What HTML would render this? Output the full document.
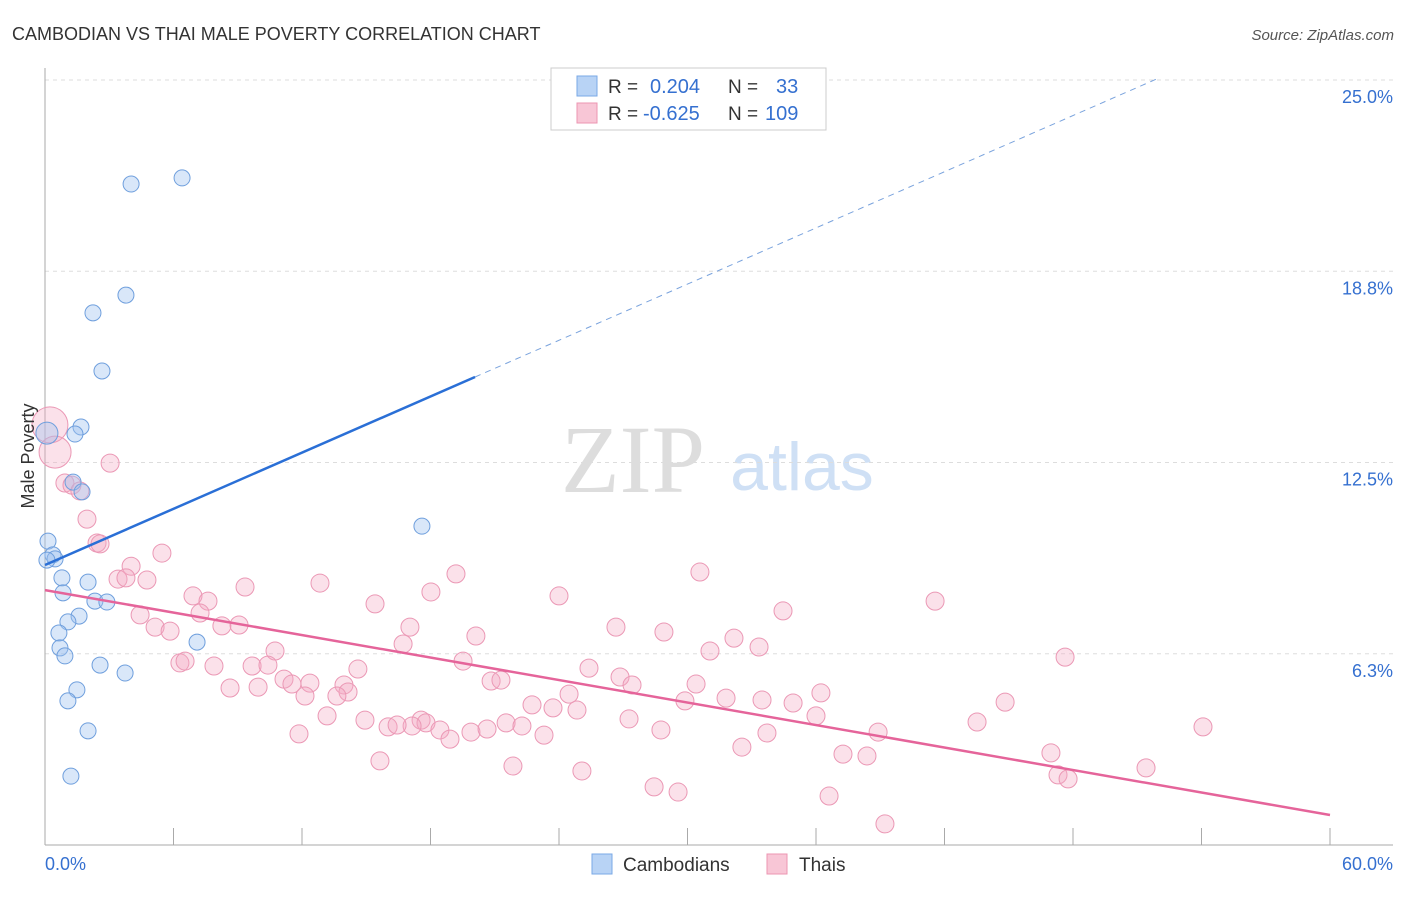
<!DOCTYPE html>
<html><head><meta charset="utf-8"><style>
body{margin:0;background:#fff;font-family:"Liberation Sans",sans-serif;}
svg text{font-family:"Liberation Sans",sans-serif;}
</style></head><body>
<svg id="chart" width="1406" height="892">
<text x="12" y="40" font-size="18" fill="#333">CAMBODIAN VS THAI MALE POVERTY CORRELATION CHART</text>
<text x="1394" y="40" font-size="15" fill="#555" font-style="italic" text-anchor="end">Source: ZipAtlas.com</text>
<text x="633" y="492" font-size="96" fill="#ddd" style="font-family:'Liberation Serif',serif" text-anchor="middle">ZIP</text>
<text x="802" y="490" font-size="68" fill="#cfe0f5" text-anchor="middle">atlas</text>
<g id="grid"></g><g id="marks"></g>
<text transform="translate(34,456) rotate(-90)" font-size="18" fill="#333" text-anchor="middle">Male Poverty</text>
<g>
<rect x="551" y="68" width="275" height="62" fill="#fff" stroke="#ccc"/>
<rect x="577" y="76" width="20" height="20" fill="#b8d3f5" stroke="#7aa8e6"/>
<rect x="577" y="103" width="20" height="20" fill="#f8c6d6" stroke="#ec95b2"/>
<text x="608" y="93" font-size="19" fill="#333">R =</text><text x="650" y="93" font-size="20" fill="#3570d0">0.204</text>
<text x="728" y="93" font-size="19" fill="#333">N =</text><text x="776" y="93" font-size="20" fill="#3570d0">33</text>
<text x="608" y="120" font-size="19" fill="#333">R =</text><text x="643" y="120" font-size="20" fill="#3570d0">-0.625</text>
<text x="728" y="120" font-size="19" fill="#333">N =</text><text x="765" y="120" font-size="20" fill="#3570d0">109</text>
</g>
<g>
<rect x="592" y="854" width="20" height="20" fill="#b8d3f5" stroke="#7aa8e6"/>
<text x="623" y="871" font-size="19" fill="#333">Cambodians</text>
<rect x="767" y="854" width="20" height="20" fill="#f8c6d6" stroke="#ec95b2"/>
<text x="799" y="871" font-size="19" fill="#333">Thais</text>
</g>
</svg>
<script>
const yTicks=[25.0,18.8,12.5,6.3];
const yTickVals=[25,18.75,12.5,6.25];
const xTickLabels=["0.0%","60.0%"];
const blueX=[4.02,6.40,3.78,2.24,2.66,1.68,1.40,0.09,1.31,1.73,0.14,0.37,0.47,0.79,2.01,0.84,2.33,2.89,1.59,1.07,0.65,0.70,0.93,7.10,2.57,3.74,1.49,1.07,2.01,1.21,17.60,0.09];
const blueY=[21.6,21.8,17.97,17.39,15.49,13.66,13.43,13.46,11.86,11.54,9.93,9.48,9.35,8.73,8.59,8.24,7.97,7.94,7.48,7.29,6.93,6.44,6.18,6.63,5.88,5.62,5.07,4.71,3.73,2.25,10.42,9.31];
const pinkX=[0.23,0.47,0.93,1.26,1.63,3.04,1.96,2.43,2.57,5.46,4.02,3.41,3.78,4.76,9.34,12.84,19.19,6.91,7.61,15.41,18.02,24.00,30.58,41.56,4.44,7.24,5.14,5.84,8.26,9.06,17.04,20.12,26.66,28.90,34.46,32.17,33.34,31.05,16.72,10.74,6.30,6.54,7.89,9.67,10.41,14.61,19.52,25.40,26.85,27.41,47.63,11.16,11.53,12.37,13.96,14.15,13.63,12.14,8.64,9.95,20.83,21.29,24.47,30.40,29.88,31.80,33.48,34.93,36.23,44.83,22.74,23.72,24.84,36.00,13.17,14.94,17.56,17.79,17.14,16.02,16.44,27.27,43.52,21.53,22.27,11.86,18.44,18.91,19.89,20.64,23.30,28.76,33.71,38.90,54.07,32.54,21.85,15.64,25.07,37.26,38.38,46.97,47.30,47.77,51.41,28.44,29.56,36.61,39.22];
const pinkY=[13.73,12.84,11.83,11.76,11.57,12.48,10.65,9.87,9.84,9.54,9.11,8.69,8.73,8.66,8.43,8.56,8.86,8.14,7.97,7.88,8.27,8.14,8.92,7.97,7.52,7.58,7.12,6.99,7.16,7.19,7.12,6.83,7.12,6.96,7.65,6.76,6.47,6.34,6.57,6.34,5.95,6.01,5.85,5.85,5.88,5.75,6.01,5.78,5.49,5.23,6.14,5.42,5.26,5.29,5.23,5.00,4.87,4.87,5.13,5.16,5.36,5.39,4.93,5.26,4.71,4.80,4.74,4.64,4.97,4.67,4.58,4.48,4.41,4.22,4.22,4.08,4.08,3.99,3.89,3.86,3.92,4.12,4.02,3.99,3.89,3.63,3.76,3.46,3.69,3.79,3.59,3.76,3.66,3.69,3.86,3.20,2.58,2.75,2.42,2.97,2.91,3.01,2.29,2.16,2.52,1.90,1.73,1.60,0.69];
const blueTrend=[9.15,0.306];
const pinkTrend=[8.33,-0.1225];
const X0=45,X1=1330,Y0=845,YTOP=80;
function sx(v){return X0+v/60*(X1-X0);}
function sy(v){return Y0-v/25*(Y0-YTOP);}
const NS="http://www.w3.org/2000/svg";
function mk(tag,attrs,parent){const e=document.createElementNS(NS,tag);for(const k in attrs)e.setAttribute(k,attrs[k]);parent.appendChild(e);return e;}
const grid=document.getElementById('grid'),marks=document.getElementById('marks');
yTickVals.forEach((v,i)=>{
 const l=mk('line',{x1:X0,x2:1393,y1:sy(v),y2:sy(v),stroke:'#ddd','stroke-dasharray':'4,4'},grid);
 
 
 const t=mk('text',{x:1393,y:sy(v)+23,'font-size':18,fill:'#3570d0','text-anchor':'end'},grid);
 t.textContent=yTicks[i].toFixed(1)+'%';
 
 
});
const ax=mk('line',{x1:X0,x2:X0,y1:68,y2:Y0,stroke:'#aaa'},grid);


const bx=mk('line',{x1:X0,x2:1393,y1:Y0,y2:Y0,stroke:'#aaa'},grid);


for(let i=0;i<=10;i++){
 const tk=mk('line',{x1:sx(i*6),x2:sx(i*6),y1:Y0-17,y2:Y0,stroke:'#aaa'},grid);
 
 
}
xTickLabels.forEach((s,i)=>{
 const t=mk('text',{x:i?1393:45,y:870,'font-size':18,fill:'#3570d0','text-anchor':i?'end':'start'},grid);
 t.textContent=s;
 
 
});
pinkX.forEach((x,i)=>{
 const r=i==0?18:(i==1?16:9);
 const c=mk('circle',{cx:sx(x),cy:sy(pinkY[i]),r:r,fill:'rgba(244,170,195,0.35)',stroke:'#eb98b5','stroke-width':1},marks);
 
 
});
blueX.forEach((x,i)=>{
 const c=mk('circle',{cx:sx(x),cy:sy(blueY[i]),r:i==7?11:8,fill:'rgba(160,195,240,0.4)',stroke:'#6f9fdd','stroke-width':1},marks);
 
 
});
const bl=mk('line',{x1:sx(0),y1:sy(blueTrend[0]),x2:sx(20.08),y2:sy(blueTrend[0]+blueTrend[1]*20.08),stroke:'#2a6fd6','stroke-width':2.5},marks);


const bd=mk('line',{x1:sx(20.08),y1:sy(blueTrend[0]+blueTrend[1]*20.08),x2:sx(52),y2:sy(blueTrend[0]+blueTrend[1]*52),stroke:'#7aa3dd','stroke-width':1,'stroke-dasharray':'6,5'},marks);


const pl=mk('line',{x1:sx(0),y1:sy(pinkTrend[0]),x2:sx(60),y2:sy(pinkTrend[0]+pinkTrend[1]*60),stroke:'#e5649a','stroke-width':2.5},marks);


</script>
</body></html>
